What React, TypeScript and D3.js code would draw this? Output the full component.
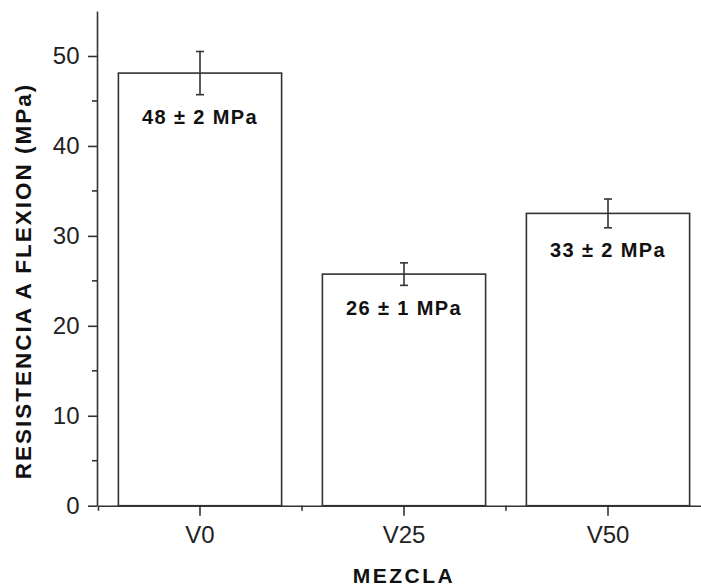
import React, { useEffect, useRef } from 'react';
import * as d3 from 'd3';

// data
const mezclas = ['V0', 'V25', 'V50'];
const resistencia = [48.1, 25.75, 32.5];
const errores = [2.4, 1.25, 1.6];
const etiquetas = ['48 ± 2 MPa', '26 ± 1 MPa', '33 ± 2 MPa'];
const yTicks = [0, 10, 20, 30, 40, 50];
const yMinorTicks = [5, 15, 25, 35, 45];

export default function App() {
  const ref = useRef<SVGSVGElement>(null);
  const width = 701;
  const height = 587;
  const axisX = 97;
  const axisY = 505.7;

  useEffect(() => {
    document.body.style.margin = '0';
    const svg = d3.select(ref.current);
    svg.selectAll('*').remove();

    //----------- scales --------------------------//
    const xScale = d3.scaleBand<string>()
      .domain(mezclas)
      .range([98, 710])
      .paddingInner(0.2)
      .paddingOuter(0.1);
    const yScale = d3.scaleLinear()
      .domain([0, 55])
      .range([axisY, axisY - 55 * 8.994]);

    const ink = '#333';
    const font = '"Liberation Sans", Arial, sans-serif';

    //----------- bars --------------------------//
    svg.append('g')
      .selectAll('rect')
      .data(mezclas)
      .join('rect')
      .attr('x', d => xScale(d)!)
      .attr('y', (d, i) => yScale(resistencia[i]))
      .attr('width', xScale.bandwidth())
      .attr('height', (d, i) => yScale(0) - yScale(resistencia[i]))
      .attr('fill', '#fff')
      .attr('stroke', ink)
      .attr('stroke-width', 1.6);

    //----------- error bars --------------------------//
    const cap = 4;
    const eb = svg.append('g')
      .attr('stroke', ink)
      .attr('stroke-width', 1.6);
    mezclas.forEach((m, i) => {
      const cx = xScale(m)! + xScale.bandwidth() / 2;
      const top = yScale(resistencia[i] + errores[i]);
      const bot = yScale(resistencia[i] - errores[i]);
      eb.append('line').attr('x1', cx).attr('x2', cx).attr('y1', top).attr('y2', bot);
      eb.append('line').attr('x1', cx - cap).attr('x2', cx + cap).attr('y1', top).attr('y2', top);
      eb.append('line').attr('x1', cx - cap).attr('x2', cx + cap).attr('y1', bot).attr('y2', bot);
    });

    //----------- value labels --------------------------//
    svg.append('g')
      .selectAll('text')
      .data(etiquetas)
      .join('text')
      .attr('x', (d, i) => xScale(mezclas[i])! + xScale.bandwidth() / 2)
      .attr('y', (d, i) => yScale(resistencia[i] - errores[i]) + 29.5)
      .attr('text-anchor', 'middle')
      .style('font-family', font)
      .style('font-weight', 'bold')
      .style('font-size', '20px')
      .style('letter-spacing', '1.4px')
      .attr('fill', '#111')
      .text(d => d);

    //----------- axes --------------------------//
    const yAxis = d3.axisLeft(yScale)
      .tickValues(yTicks)
      .tickSize(9)
      .tickSizeOuter(0)
      .tickPadding(8.5)
      .tickFormat(d3.format('d'));
    svg.append('g')
      .attr('transform', `translate(${axisX},0)`)
      .call(yAxis);
    svg.append('g')
      .selectAll('line')
      .data(yMinorTicks)
      .join('line')
      .attr('x1', axisX - 5)
      .attr('x2', axisX)
      .attr('y1', d => yScale(d))
      .attr('y2', d => yScale(d))
      .attr('stroke', ink)
      .attr('stroke-width', 1.6);

    const xAxis = d3.axisBottom(xScale)
      .tickSize(10)
      .tickSizeOuter(5)
      .tickPadding(10);
    const gx = svg.append('g')
      .attr('transform', `translate(0,${axisY})`)
      .call(xAxis);
    // minor ticks at the category boundaries
    const bounds = mezclas.slice(1).map(m => xScale(m)! - xScale.step() * xScale.paddingInner() / 2);
    gx.selectAll('.minor')
      .data(bounds)
      .join('line')
      .attr('class', 'minor')
      .attr('x1', d => d)
      .attr('x2', d => d)
      .attr('y1', 0)
      .attr('y2', 5)
      .attr('stroke', ink)
      .attr('stroke-width', 1.6);

    // styles to axis
    svg.selectAll('.domain, .tick line')
      .attr('stroke', ink)
      .attr('stroke-width', 1.6);
    svg.selectAll('.tick text')
      .attr('fill', '#222')
      .style('font-family', font)
      .style('font-size', '24px');

    //----------- axis titles --------------------------//
    svg.append('text')
      .attr('transform', `translate(31,281) rotate(-90)`)
      .attr('text-anchor', 'middle')
      .style('font-family', font)
      .style('font-weight', 'bold')
      .style('font-size', '22.5px')
      .style('letter-spacing', '2px')
      .attr('fill', '#111')
      .text('RESISTENCIA A FLEXION (MPa)');
    svg.append('text')
      .attr('x', 404)
      .attr('y', 583.3)
      .attr('text-anchor', 'middle')
      .style('font-family', font)
      .style('font-weight', 'bold')
      .style('font-size', '21px')
      .style('letter-spacing', '2.5px')
      .attr('fill', '#111')
      .text('MEZCLA');
  }, []);

  return (
    <svg ref={ref} width={width} height={height} style={{ display: 'block', background: '#fff' }} />
  );
}
